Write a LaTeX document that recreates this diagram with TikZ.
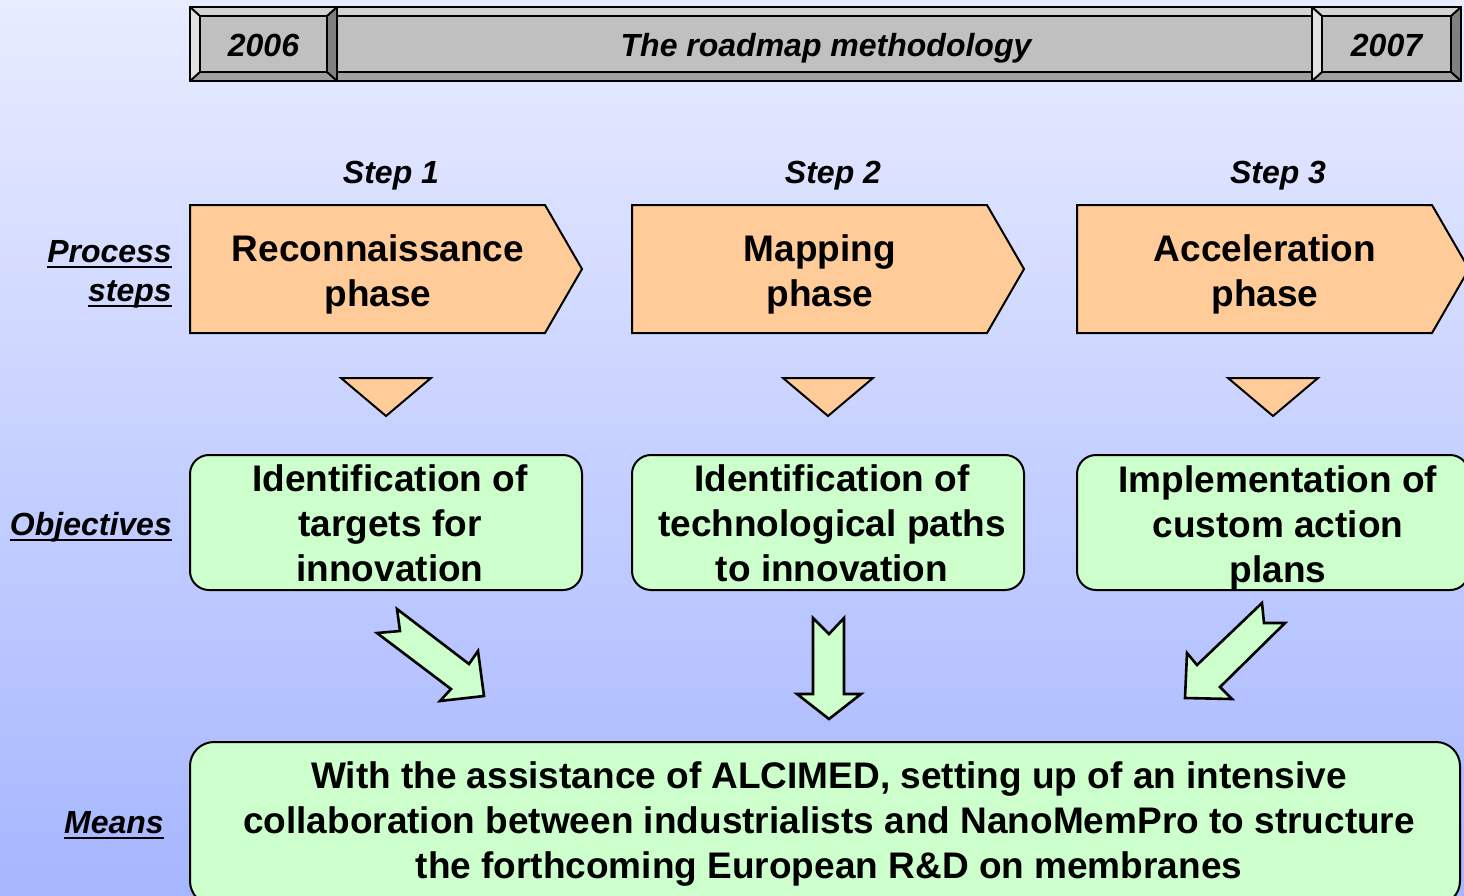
\documentclass[tikz,border=0pt]{standalone}
\usepackage{fontspec}
\setmainfont{Liberation Sans}
\definecolor{peach}{HTML}{FFCC99}
\definecolor{mint}{HTML}{CCFFCC}
\definecolor{skytop}{RGB}{232,236,255}
\definecolor{skybottom}{RGB}{166,182,255}
\definecolor{barface}{HTML}{C0C0C0}
\definecolor{barlight}{HTML}{D4D4D4}
\definecolor{barlighter}{HTML}{E2E2E2}
\definecolor{barshade}{HTML}{A0A0A0}
\definecolor{bardark}{HTML}{808080}
\tikzset{
  phase/.style={draw, line width=2pt, fill=peach, line join=miter},
  goal/.style={draw, line width=2pt, fill=mint, rounded corners=19pt},
  blockarrow/.style={draw, line width=2.6pt, fill=mint, line join=miter},
  bigtext/.style={font=\bfseries\fontsize{37}{45}\selectfont, align=center, inner sep=0pt},
  bartext/.style={font=\bfseries\itshape\fontsize{32}{38}\selectfont, inner sep=0pt},
  sidelabel/.style={font=\bfseries\itshape\fontsize{32}{38}\selectfont, anchor=base east, inner sep=0pt},
  underbar/.style={line width=2.6pt}
}
\begin{document}
\begin{tikzpicture}[x=1pt, y=-1pt]
\useasboundingbox (0,0) rectangle (1464,895);
\clip (0,0) rectangle (1464,895);
\shade[top color=skytop, bottom color=skybottom] (0,0) rectangle (1464,895);

%title bar
\fill[barlight] (337,7) rectangle (1312,16);
\fill[barface] (337,16) rectangle (1312,72);
\fill[barshade] (337,72) rectangle (1312,81);
\draw[line width=2pt] (337,16) -- (1312,16) (337,72) -- (1312,72);
\foreach \a/\b/\yr [count=\i] in {190/337/2006, 1312/1461/2007}{
  \fill[barlight] (\a,7) -- (\b,7) -- (\b-10,16) -- (\a+10,16) -- cycle;
  \fill[barlighter] (\a,7) -- (\a+10,16) -- (\a+10,72) -- (\a,81) -- cycle;
  \fill[barshade] (\a,81) -- (\a+10,72) -- (\b-10,72) -- (\b,81) -- cycle;
  \fill[bardark] (\b,7) -- (\b-10,16) -- (\b-10,72) -- (\b,81) -- cycle;
  \fill[barface] (\a+10,16) rectangle (\b-10,72);
  \draw[line width=2pt] (\a+10,16) rectangle (\b-10,72);
  \draw[line width=2pt] (\a,7) -- (\a+10,16) (\b,7) -- (\b-10,16)
    (\a,81) -- (\a+10,72) (\b,81) -- (\b-10,72);
  \draw[line width=2pt] (\a,7) rectangle (\b,81);
  \node[bartext, anchor=base] (yr\i) at ({(\a+\b)/2},56) {\yr};
}
\draw[line width=2pt] (190,7) rectangle (1461,81);
\node[bartext, anchor=base] (title) at (826,56) {The roadmap methodology};

%process steps
\foreach \x/\txt [count=\i] in {190/Reconnaissance, 632/Mapping, 1077/Acceleration}{
  \node[bartext, anchor=base] (step\i) at (\x+201,183) {Step \i};
  \draw[phase] (\x,205) -- (\x+355,205) -- (\x+392,269) -- (\x+355,333) -- (\x,333) -- cycle;
  \node[bigtext] (phase\i) at (\x+188,274) {\txt\\phase};
  \draw[phase] (\x+151,378) -- (\x+241,378) -- (\x+196,416) -- cycle;
  \draw[goal] (\x,455) rectangle (\x+392,590);
}
\node[bigtext] (goal1) at (390,523.5) {Identification of\\targets for\\innovation};
\node[bigtext] (goal2) at (832,523.5) {Identification of\\technological paths\\to innovation};
\node[bigtext] (goal3) at (1278,527.5) {Implementation of\\custom action\\plans};

%arrows
\draw[blockarrow] (397,609) -- (469,664) -- (478,651) -- (484,696) -- (440,701)
  -- (451,689) -- (377,633) -- (400,631) -- cycle;
\draw[blockarrow] (813,618) -- (829,634) -- (844,618) -- (844,694) -- (861,694)
  -- (829,719) -- (797,694) -- (813,694) -- cycle;
\draw[blockarrow] (1262,603) -- (1264,623) -- (1285,623) -- (1220,687) -- (1232,699)
  -- (1185,698) -- (1187,653) -- (1197,665) -- cycle;

%means
\draw[goal, rounded corners=24pt] (190,742) rectangle (1460,905);
\node[bigtext] (means) at (829,824) {With the assistance of ALCIMED, setting up of an intensive\\collaboration between industrialists and NanoMemPro to structure\\the forthcoming European R\&D on membranes};

%row labels
\node[sidelabel] (lbproc) at (172,262) {Process};
\node[sidelabel] (lbsteps) at (172,301) {steps};
\node[sidelabel] (lbobj) at (172,535) {Objectives};
\node[sidelabel] (lbmeans) at (164,833) {Means};
\foreach \n in {lbproc, lbsteps, lbobj, lbmeans}
  \draw[underbar] ([yshift=-5pt]\n.base west) -- ([yshift=-5pt]\n.base east);
\end{tikzpicture}
\end{document}
